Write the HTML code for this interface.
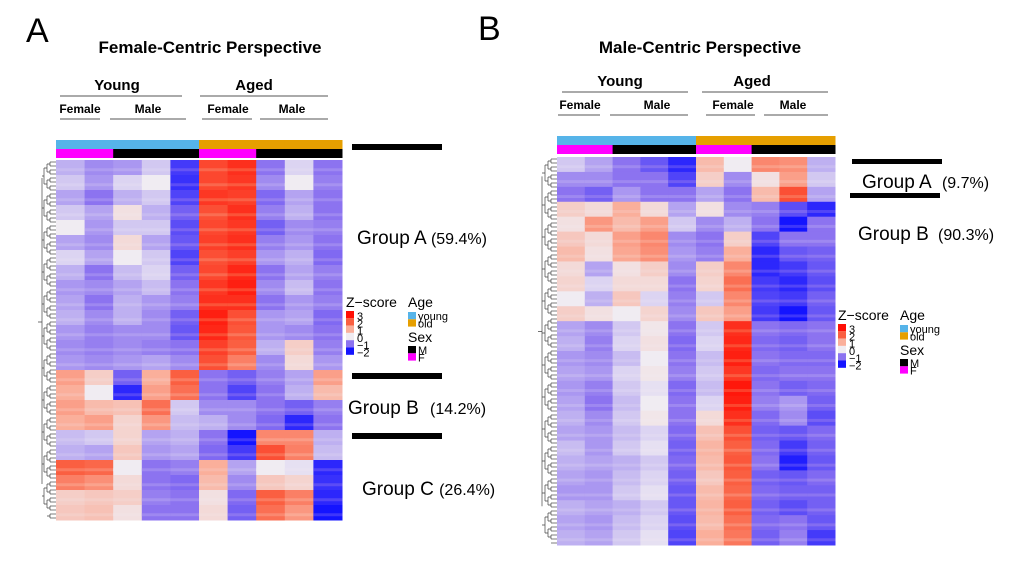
<!DOCTYPE html>
<html><head><meta charset="utf-8">
<style>
body{margin:0;background:#fff;}
svg{display:block;font-family:"Liberation Sans",sans-serif;}
</style></head>
<body>
<svg id="fig" width="1020" height="562" viewBox="0 0 1020 562" xmlns="http://www.w3.org/2000/svg">
<g>
<text x="26" y="42" font-size="34">A</text>
<text x="210" y="53" font-size="17" font-weight="bold" text-anchor="middle">Female-Centric Perspective</text>
<text x="117" y="90" font-size="15" font-weight="bold" text-anchor="middle">Young</text>
<line x1="60" y1="96" x2="182" y2="96" stroke="#555"/>
<text x="254" y="90" font-size="15" font-weight="bold" text-anchor="middle">Aged</text>
<line x1="200" y1="96" x2="328" y2="96" stroke="#555"/>
<text x="80" y="113" font-size="12" font-weight="bold" text-anchor="middle">Female</text>
<text x="148" y="113" font-size="12" font-weight="bold" text-anchor="middle">Male</text>
<text x="228" y="113" font-size="12" font-weight="bold" text-anchor="middle">Female</text>
<text x="292" y="113" font-size="12" font-weight="bold" text-anchor="middle">Male</text>
<line x1="60" y1="119" x2="100" y2="119" stroke="#555"/><line x1="110" y1="119" x2="186" y2="119" stroke="#555"/>
<line x1="202" y1="119" x2="252" y2="119" stroke="#555"/><line x1="260" y1="119" x2="328" y2="119" stroke="#555"/>
<rect x="352" y="144" width="90" height="6" fill="#000"/>
<rect x="352" y="373" width="90" height="6" fill="#000"/>
<rect x="352" y="433" width="90" height="6" fill="#000"/>
<text x="357" y="244" font-size="19">Group A <tspan font-size="16">(59.4%)</tspan></text>
<text x="348" y="414" font-size="19">Group B <tspan font-size="16" dx="6">(14.2%)</tspan></text>
<text x="362" y="495" font-size="19">Group C <tspan font-size="16">(26.4%)</tspan></text>
</g>
<g>
<text x="478" y="40" font-size="34">B</text>
<text x="700" y="53" font-size="17" font-weight="bold" text-anchor="middle">Male-Centric Perspective</text>
<text x="620" y="86" font-size="15" font-weight="bold" text-anchor="middle">Young</text>
<line x1="562" y1="92" x2="688" y2="92" stroke="#555"/>
<text x="752" y="86" font-size="15" font-weight="bold" text-anchor="middle">Aged</text>
<line x1="702" y1="92" x2="828" y2="92" stroke="#555"/>
<text x="580" y="109" font-size="12" font-weight="bold" text-anchor="middle">Female</text>
<text x="657" y="109" font-size="12" font-weight="bold" text-anchor="middle">Male</text>
<text x="733" y="109" font-size="12" font-weight="bold" text-anchor="middle">Female</text>
<text x="793" y="109" font-size="12" font-weight="bold" text-anchor="middle">Male</text>
<line x1="558" y1="115" x2="600" y2="115" stroke="#555"/><line x1="610" y1="115" x2="688" y2="115" stroke="#555"/>
<line x1="706" y1="115" x2="755" y2="115" stroke="#555"/><line x1="764" y1="115" x2="828" y2="115" stroke="#555"/>
<rect x="852" y="159" width="90" height="5" fill="#000"/>
<rect x="850" y="193" width="90" height="5" fill="#000"/>
<text x="862" y="188" font-size="19">Group A <tspan font-size="16" dx="6">(9.7%)</tspan></text>
<text x="858" y="240" font-size="19">Group B <tspan font-size="16" dx="4">(90.3%)</tspan></text>
</g>
<g id="hmA"></g>
<g id="hmB"></g>
<g id="legA"></g>
<g id="legB"></g>
</svg>
<script>
const ageGroups = ['young','young','young','young','young','old','old','old','old','old'];
const sexGroups = ['F','F','M','M','M','F','F','M','M','M'];
const zA = [
[-0.5,-0.8,-0.7,-0.3,-1.6,2.3,2.6,-1,-0.2,-1],
[-0.3,-0.7,-0.2,0,-1.7,2.3,2.5,-0.8,0,-0.9],
[-0.6,-1,-0.5,-0.3,-1.5,2.5,2.4,-1.1,-0.6,-1],
[-0.3,-0.6,0.2,-0.5,-1.2,2.2,2.6,-0.9,-0.5,-1],
[0,-0.7,-0.3,-0.3,-1.4,2.3,2.5,-1.2,-0.8,-0.9],
[-0.6,-0.8,0.3,-0.6,-1.3,2.4,2.6,-0.9,-0.7,-1],
[-0.2,-0.6,0,-0.3,-1.5,2.2,2.4,-0.7,-0.5,-1.1],
[-0.5,-1,-0.4,-0.2,-1.2,2.3,2.7,-1,-0.6,-0.9],
[-0.7,-0.8,-0.6,-0.4,-1.0,2.5,2.8,-0.8,-0.4,-1],
[-0.6,-1,-0.5,-0.7,-0.9,2.6,2.6,-1,-0.7,-0.9],
[-0.5,-0.8,-0.5,-0.8,-1.2,2.8,2.2,-0.7,-0.6,-1.1],
[-0.7,-0.9,-0.8,-0.8,-1.3,2.7,2.1,-0.7,-0.8,-1],
[-0.8,-0.9,-0.8,-0.9,-1.0,2.4,2.0,-0.5,0.5,-0.9],
[-0.7,-0.8,-0.7,-0.6,-0.8,2.2,1.6,-0.8,0.3,-0.7],
[1.2,0.5,-1.2,1.0,2.0,-1,-1.2,-0.9,-0.6,1.2],
[1,0,-1.8,1.2,1.8,-1,-1.5,-1,-0.5,0.8],
[1.2,0.8,0.7,1.8,-0.3,-0.8,-0.8,-1,-1.2,-0.9],
[1,1.2,0.4,1.3,-0.4,-0.5,-0.8,-1.1,-1.8,-1],
[-0.4,-0.3,0.4,-0.6,-0.5,-1,-2,1.5,1.5,-0.5],
[-0.5,-0.6,0.6,-0.7,-0.6,-1.1,-1.6,2.2,1.6,-0.4],
[2,1.9,0,-1,-0.9,1,-0.6,0,-0.1,-1.8],
[1.6,1.4,0.3,-1,-1.1,0.8,-0.8,0.6,0.4,-1.7],
[0.5,0.6,0.5,-0.9,-1.0,0.2,-1.1,2.0,1.6,-1.8],
[0.6,0.7,0.2,-1,-1,0.3,-1.2,1.8,1.3,-2]];
const zB = [
[-0.3,-0.6,-1,-1.3,-1.8,0.8,0,1.5,1.4,-0.5],
[-0.8,-0.8,-1,-1,-1.5,0.5,-0.8,0.2,1.2,-0.3],
[-1,-1.2,-0.7,-1,-1,-0.6,-1,0.8,2.2,-0.6],
[0.5,0.3,1.0,0.3,-0.6,0.2,-0.8,-0.9,-1.4,-1.8],
[0.2,1.3,0.8,1.2,-0.3,-0.8,-0.5,-1,-2,-1],
[0.6,0.3,1.2,1.5,-0.8,-1,0.5,-1.5,-1,-1],
[0.8,0.2,1.1,1.4,-0.7,-0.9,1,-1.8,-1.3,-1.2],
[0.3,-0.6,0.2,0.5,-0.8,0.5,1.5,-1.8,-1.6,-1.3],
[0.4,-0.2,0.3,0.3,-1,0.4,1.8,-1.6,-1.8,-1.4],
[0,-0.5,0.6,-0.2,-0.9,-0.3,1.5,-1.5,-1.6,-1.2],
[0.5,0.2,0,0.4,-0.8,0.6,1.2,-1.6,-2,-1.3],
[-0.6,-0.8,-0.3,0.1,-1,-0.3,2.6,-1,-1.1,-1],
[-0.5,-0.9,-0.2,0.2,-1.1,-0.2,2.7,-1.1,-1.2,-1],
[-0.7,-0.8,-0.4,0,-1,-0.4,2.8,-1,-1.1,-1.1],
[-0.6,-0.7,-0.2,0.1,-0.9,-0.3,2.5,-1.1,-1,-1],
[-0.7,-0.9,-0.3,-0.1,-1.1,-0.4,2.9,-1,-1.2,-1.1],
[-0.6,-1,-0.4,0,-1,-0.2,2.8,-0.9,-0.7,-1.2],
[-0.5,-0.8,-0.3,0.1,-1,0.3,2.6,-1.1,-0.8,-1.4],
[-0.6,-0.7,-0.4,-0.2,-1.1,0.7,2.2,-1.2,-1.3,-1.1],
[-0.4,-0.7,-0.3,-0.1,-1.2,0.9,2.0,-1.1,-1.6,-1.2],
[-0.5,-0.6,-0.5,-0.3,-1.1,0.8,2.1,-1.0,-1.9,-1.3],
[-0.6,-0.7,-0.4,-0.2,-1.2,0.6,2.0,-1.2,-1.3,-1.1],
[-0.7,-0.7,-0.3,-0.1,-1.3,0.8,1.9,-1.1,-1.2,-1.2],
[-0.5,-0.6,-0.5,-0.3,-1.3,0.9,2.0,-1.2,-1.4,-1.2],
[-0.6,-0.7,-0.4,-0.2,-1.4,0.8,1.8,-1.1,-1.0,-1.3],
[-0.5,-0.6,-0.3,-0.1,-1.5,1.0,1.7,-1.2,-0.9,-1.6]];
const zTicks = [3,2,1,0,-1,-2];
const zTickLabels = ['3','2','1','0','\u22121','\u22122'];

const NS='http://www.w3.org/2000/svg';
const stops=[[-2,[20,20,255]],[-1,[140,115,240]],[0,[240,236,242]],[1,[250,175,155]],[2,[250,95,65]],[3,[255,15,5]]];
function zColor(v){
  v=Math.max(-2,Math.min(3,v));
  for(let i=0;i<stops.length-1;i++){
    const [a,ca]=stops[i],[b,cb]=stops[i+1];
    if(v<=b){const t=(v-a)/(b-a);return 'rgb('+ca.map((c,k)=>Math.round(c+(cb[k]-c)*t)).join(',')+')';}
  }
}
function mk(tag,attrs,parent){const e=document.createElementNS(NS,tag);for(const k in attrs)e.setAttribute(k,attrs[k]);parent.appendChild(e);return e;}
const ageColor={young:'#56b4e9',old:'#e69f00'}, sexColor={F:'#ff00ff',M:'#000000'};

function drawHeatmap(g,data,x0,y0,w,h,annTop,dendX){
  const nc=data[0].length,nr=data.length;
  const cw=w/nc,rh=h/nr;
  const xs=c=>x0+c*cw, ys=r=>y0+r*rh;
  ageGroups.forEach((a,c)=>{
    const el=mk('rect',{x:xs(c),y:annTop,width:cw+0.5,height:9,fill:ageColor[a]},g);
    
    
  });
  sexGroups.forEach((s,c)=>{
    const el=mk('rect',{x:xs(c),y:annTop+9,width:cw+0.5,height:9,fill:sexColor[s]},g);
    
    
  });
  data.forEach((row,r)=>row.forEach((v,c)=>{
    const el=mk('rect',{x:xs(c),y:ys(r),width:cw+0.5,height:rh+0.5,fill:zColor(v)},g);
    
    
    const s=mk('rect',{x:xs(c),y:ys(r)+rh*0.55,width:cw+0.5,height:rh*0.2,fill:zColor(v*0.75),opacity:0.7},g);
    
    
  }));
  const d=mk('g',{stroke:'#444','stroke-width':0.7,fill:'none'},g);
  
  
  const n=Math.round(h/4), u=h/n;
  for(let i=0;i<n;i++){const y=y0+(i+0.5)*u;mk('line',{x1:x0-6,y1:y,x2:x0,y2:y},d);}
  for(let i=0;i+1<n;i+=2){const y=y0+(i+0.5)*u;mk('path',{d:`M${x0-6} ${y}V${y+u}M${x0-6} ${y+u/2}H${x0-9}`},d);}
  for(let i=0;i+3<n;i+=4){const y=y0+(i+1)*u;mk('path',{d:`M${x0-9} ${y}V${y+2*u}M${x0-9} ${y+u}H${x0-12}`},d);}
  for(let i=0;i+7<n;i+=8){const y=y0+(i+2)*u;mk('path',{d:`M${x0-12} ${y}V${y+4*u}M${x0-12} ${y+2*u}H${dendX+4}`},d);}
  mk('path',{d:`M${dendX+4} ${y0+h*0.05}V${y0+h*0.9}M${dendX+4} ${y0+h*0.45}H${dendX}`},d);
}
drawHeatmap(document.getElementById('hmA'),zA,56,160,286,360,140,38);
drawHeatmap(document.getElementById('hmB'),zB,557,157,278,388,136,538);

function drawLegend(g,x,y){
  const t=mk('text',{x:x,y:y,'font-size':14},g);t.textContent='Z\u2212score';
  
  
  zTicks.forEach((v,i)=>{
    const r=mk('rect',{x:x,y:y+4+i*7.3,width:8,height:7.3,fill:zColor(v)},g);
    
    
    const l=mk('text',{x:x+11,y:y+13+i*7.3,'font-size':11},g);l.textContent=zTickLabels[i];
    
    
  });
  const a=mk('text',{x:x+62,y:y,'font-size':14},g);a.textContent='Age';
  
  
  [['young','#56b4e9'],['old','#e69f00']].forEach(([n,c],i)=>{
    const r=mk('rect',{x:x+62,y:y+5+i*7.3,width:8,height:7.3,fill:c},g);
    
    
    const l=mk('text',{x:x+72,y:y+13+i*7.3,'font-size':11},g);l.textContent=n;
    
    
  });
  const s=mk('text',{x:x+62,y:y+35,'font-size':14},g);s.textContent='Sex';
  
  
  [['M','#000'],['F','#ff00ff']].forEach(([n,c],i)=>{
    const r=mk('rect',{x:x+62,y:y+39+i*7.3,width:8,height:7.3,fill:c},g);
    
    
    const l=mk('text',{x:x+72,y:y+47+i*7.3,'font-size':11},g);l.textContent=n;
    
    
  });
}
drawLegend(document.getElementById('legA'),346,307);
drawLegend(document.getElementById('legB'),838,320);
</script>
</body></html>
